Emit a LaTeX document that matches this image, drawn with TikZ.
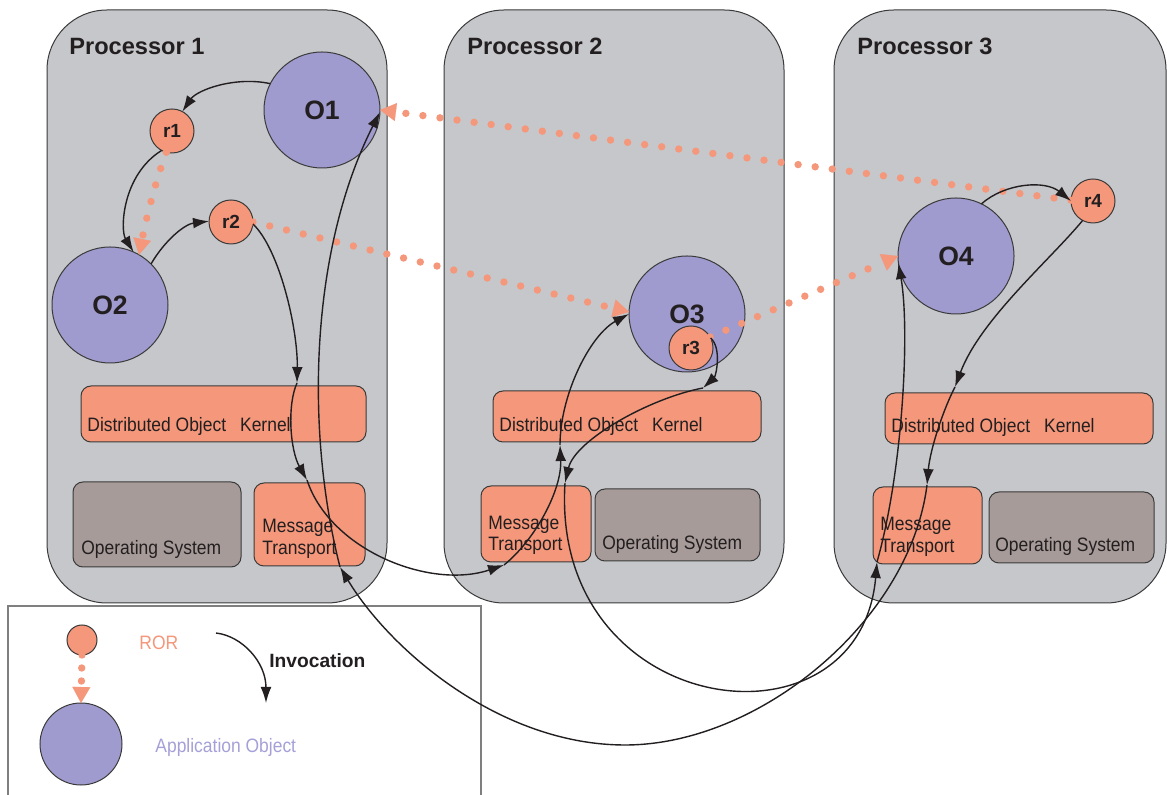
\documentclass[tikz,border=0pt]{standalone}
\usepackage{fontspec}
\setmainfont{Liberation Sans}
\newfontfamily\condfont[FakeStretch=0.9]{Liberation Sans}
\usetikzlibrary{arrows.meta}
\definecolor{procgray}{HTML}{C6C7CB}
\definecolor{rorc}{HTML}{F4977A}
\definecolor{appobj}{HTML}{9F9BCE}
\definecolor{osgray}{HTML}{A69B99}
\definecolor{edgec}{HTML}{3A3A3A}
\definecolor{ink}{HTML}{231F20}
\definecolor{legtext}{HTML}{A5A1D8}
\definecolor{legedge}{HTML}{7F7F7F}
\begin{document}
\begin{tikzpicture}[x=0.5pt,y=-0.5pt,
  proc/.style={draw=edgec, line width=0.5pt, fill=procgray, rounded corners=30pt, rectangle, inner sep=0pt, outer sep=0pt},
  dokbox/.style={draw=edgec, line width=0.5pt, fill=rorc, rounded corners=5pt, rectangle, inner sep=0pt, outer sep=0pt},
  osbox/.style={draw=edgec, line width=0.5pt, fill=osgray, rounded corners=5pt, rectangle, inner sep=0pt, outer sep=0pt},
  legbox/.style={draw=legedge, line width=0.6pt, rectangle, inner sep=0pt, outer sep=0pt},
  title/.style={anchor=base west, inner sep=0pt, text=ink, font=\bfseries\fontsize{11.8}{14}\selectfont},
  lbl/.style={anchor=base west, inner sep=0pt, text=ink, font=\condfont\fontsize{9.7}{11}\selectfont},
  obj/.style={circle, draw=edgec, line width=0.5pt, fill=appobj, inner sep=0pt, outer sep=0pt, minimum size=58pt, text=ink, font=\bfseries\fontsize{13.3}{15}\selectfont},
  ror/.style={circle, draw=edgec, line width=0.5pt, fill=rorc, inner sep=0pt, outer sep=0pt, minimum size=22pt, text=ink, font=\bfseries\fontsize{9.5}{11}\selectfont},
  inv/.style={draw=ink, line width=0.7pt, -{Latex[length=8pt,width=5.4pt]}},
  refl/.style={draw=rorc, line width=3.7pt, line cap=round, dash pattern=on 0pt off 8.6pt, -{Triangle[length=8pt,width=9pt,line width=0.1pt]}}
]
\useasboundingbox (0,0) rectangle (1167,795);
\fill[white] (0,0) rectangle (1167,795);

% processors
\node[proc, minimum width=170pt, minimum height=296.5pt] (p1) at (217,306.5) {};
\node[proc, minimum width=170pt, minimum height=296.5pt] (p2) at (614,306.5) {};
\node[proc, minimum width=166pt, minimum height=296.5pt] (p3) at (1000,306.5) {};
\node[title] (p1t) at (69,55) {Processor 1};
\node[title] (p2t) at (467,55) {Processor 2};
\node[title] (p3t) at (857,55) {Processor 3};

% inner boxes
\node[dokbox, minimum width=142.5pt, minimum height=28pt] (dok1) at (223.5,414) {};
\node[dokbox, minimum width=134pt, minimum height=25.5pt] (dok2) at (627,416.5) {};
\node[dokbox, minimum width=134pt, minimum height=25.5pt] (dok3) at (1019,418.5) {};
\node[osbox, minimum width=84pt, minimum height=42.5pt] (os1) at (157,524.5) {};
\node[dokbox, minimum width=55.5pt, minimum height=41.5pt] (mt1) at (309.5,524.5) {};
\node[dokbox, minimum width=55pt, minimum height=38pt] (mt2) at (536,524) {};
\node[osbox, minimum width=82.5pt, minimum height=36pt] (os2) at (677.5,525) {};
\node[dokbox, minimum width=54.5pt, minimum height=38.5pt] (mt3) at (927.5,525.5) {};
\node[osbox, minimum width=82.5pt, minimum height=35.5pt] (os3) at (1071.5,527.5) {};

\node[lbl] (dok1l) at (87,432) {Distributed Object\hspace{7pt}Kernel};
\node[lbl] (dok2l) at (499,432) {Distributed Object\hspace{7pt}Kernel};
\node[lbl] (dok3l) at (891,433) {Distributed Object\hspace{7pt}Kernel};
\node[lbl] (mt1a) at (262,533) {Message};
\node[lbl] (mt1b) at (262,555) {Transport};
\node[lbl] (mt2a) at (488,530) {Message};
\node[lbl] (mt2b) at (488,551) {Transport};
\node[lbl] (mt3a) at (880,531) {Message};
\node[lbl] (mt3b) at (880,553) {Transport};
\node[lbl] (os1l) at (81,555) {Operating System};
\node[lbl] (os2l) at (602,550) {Operating System};
\node[lbl] (os3l) at (995,552) {Operating System};

% objects and RORs
\node[obj] (O1) at (322,110) {O1};
\node[obj] (O2) at (110,305) {O2};
\node[obj] (O3) at (687,314) {O3};
\node[obj] (O4) at (956,256) {O4};
\node[ror] (r1) at (172,131) {r1};
\node[ror] (r2) at (231,222) {r2};
\node[ror] (r3) at (691,348) {r3};
\node[ror] (r4) at (1093,201) {r4};

% legend
\node[legbox, minimum width=236.5pt, minimum height=97pt] (leg) at (244.5,703) {};
\node[ror, minimum size=15pt] (lr) at (82,640) {};
\node[obj, minimum size=41pt] (lo) at (81,744) {};
\node[anchor=base west, inner sep=0pt, text=rorc, font=\condfont\fontsize{9.7}{11}\selectfont] (lrt) at (139,650) {ROR};
\node[anchor=base west, inner sep=0pt, text=legtext, font=\condfont\fontsize{9.7}{11}\selectfont] (lot) at (155,753) {Application Object};
\node[anchor=base west, inner sep=0pt, text=ink, font=\bfseries\fontsize{9.6}{11}\selectfont] (invt) at (269,668) {Invocation};
\coordinate (invS) at (216,633);
\coordinate (invE) at (266,703);

% waypoints
\coordinate (dokA1) at (297,383);
\coordinate (mtA1) at (307,480);
\coordinate (mtA2) at (504,565);
\coordinate (dokA2) at (560,445);
\coordinate (dokB2) at (703,388);
\coordinate (mtB2) at (565,483);
\coordinate (mtB3) at (877,562);
\coordinate (dokC3) at (955,387);
\coordinate (mtC3) at (927,485);
\coordinate (loopC) at (625,745);
\coordinate (mtC1) at (340,567);

% references (dotted)
\draw[refl] (r1.-105) .. controls (156,180) and (147,215) .. (O2.60);
\draw[refl] (r2.0) -- (O3.178);
\draw[refl] (r3.30) -- (O4.180);
\draw[refl] (r4.178) -- (O1.0);
\draw[refl, dash pattern=on 0pt off 6.5pt] (lr.south) -- (lo.north);

% invocations
\draw[inv] (O1.153) .. controls (235,76) and (197,90) .. (r1.62);
\draw[inv] (r1.242) .. controls (122,175) and (120,230) .. (O2.66);
\draw[inv] (O2.45) .. controls (165,240) and (185,224) .. (r2.178);

\draw[inv] (r2.-5) .. controls (280,250) and (298,330) .. (dokA1);
\draw[inv] (dokA1) .. controls (287,405) and (290,450) .. (mtA1);
\draw[inv] (mtA1) .. controls (330,550) and (430,590) .. (mtA2);
\draw[inv] (mtA2) .. controls (535,540) and (562,490) .. (dokA2);
\draw[inv] (dokA2) .. controls (560,395) and (590,335) .. (O3.180);

\draw[inv] (r3.27) .. controls (722,348) and (716,376) .. (dokB2);
\draw[inv] (dokB2) .. controls (650,398) and (575,440) .. (mtB2);
\draw[inv] (mtB2) .. controls (550,720) and (860,760) .. (mtB3);
\draw[inv] (mtB3) .. controls (903,470) and (910,330) .. (O4.187);

\draw[inv] (O4.64) .. controls (1005,183) and (1045,180) .. (r4.180);
\draw[inv] (r4.242) .. controls (1050,260) and (980,320) .. (dokC3);
\draw[inv] (dokC3) .. controls (943,410) and (930,450) .. (mtC3);
\draw[inv] (mtC3) .. controls (910,620) and (760,745) .. (loopC) .. controls (500,745) and (390,650) .. (mtC1);
\draw[inv] (mtC1) .. controls (305,430) and (310,250) .. (O1.-2);

\draw[inv] (invS) .. controls (242,636) and (266,662) .. (invE);
\end{tikzpicture}
\end{document}
